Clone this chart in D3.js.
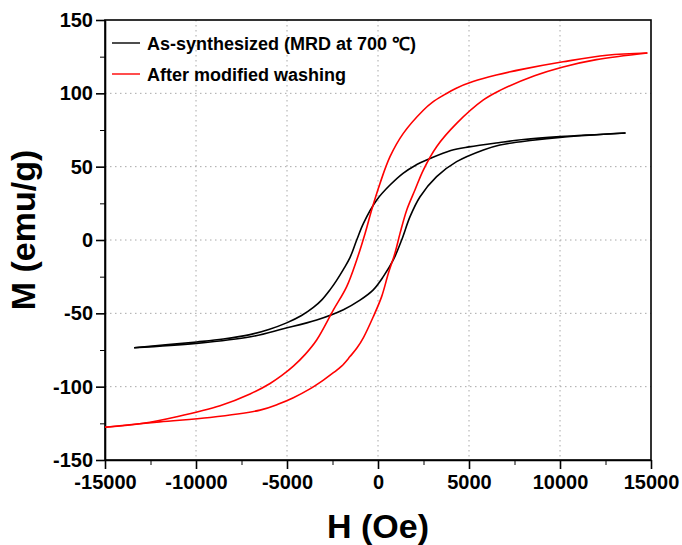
<!DOCTYPE html>
<html>
<head>
<meta charset="utf-8">
<script src="https://cdn.jsdelivr.net/npm/d3@7"></script>
<style>
  body { margin: 0; background: #fff; }
  svg { font-family: "Liberation Sans", Arial, sans-serif; font-weight: bold; }
</style>
</head>
<body>
<svg id="chart" width="682" height="545"></svg>
<script>
// black: as-synthesized, descending branch then ascending branch (H in Oe, M in emu/g)
var blackDownH = [13600, 10000, 8000, 6700, 5000, 4000, 2860, 2000, 1375, 660, -70, -800, -1170, -1540, -1900, -2300, -2640, -3100, -3550, -4200, -5020, -6000, -7030, -8500, -9960, -13400];
var blackDownM = [73, 70.5, 68.5, 66.5, 63.5, 61, 55.5, 50.5, 45.5, 37.5, 27.3, 11.4, 0, -12, -20, -28, -34, -41, -46, -51.5, -56.5, -61, -64.5, -67.5, -69.5, -73.5];
var blackUpH = [-13400, -10000, -7000, -5200, -3370, -1900, -990, -260, 290, 840, 1300, 1760, 2310, 3220, 4320, 5790, 6700, 8500, 10000, 13600];
var blackUpM = [-73.5, -70.5, -66, -60.5, -54.5, -47.5, -41, -34, -25, -13.6, 0, 15.9, 29.5, 43.2, 53.4, 61.4, 64.8, 68, 70, 73];

// red: after modified washing
var redDownH = [14800, 12570, 10170, 7970, 6500, 5220, 4300, 3570, 3000, 2490, 1390, 660, 110, -350, -710, -1170, -1720, -2450, -3370, -4000, -4650, -5300, -5930, -7030, -8680, -11060, -12900, -15000];
var redDownM = [127.5, 126, 121.5, 116.5, 112.5, 108, 103.5, 98.5, 94, 88.5, 72.7, 56.8, 38.6, 20.5, 4.5, -13.6, -31.8, -47.7, -68.2, -78, -86, -92.5, -97.8, -105, -113, -120.5, -125, -127.7];
var redUpH = [-15000, -12000, -9230, -6480, -5500, -4650, -3740, -3000, -2450, -2000, -1540, -1150, -800, -260, 200, 570, 930, 1210, 1580, 2030, 2490, 3220, 4320, 5790, 6700, 8600, 10170, 12000, 14800];
var redUpM = [-127.7, -124, -121, -116, -112, -107.5, -101.5, -95.5, -90.5, -86, -79.5, -73.5, -66.5, -52.3, -38.6, -22.7, -9.1, 4.5, 20.5, 34.1, 47.7, 63.6, 79.5, 95.5, 102, 112, 118, 123, 127.5];

var xTicks = [-15000, -10000, -5000, 0, 5000, 10000, 15000];
var yTicks = [-150, -100, -50, 0, 50, 100, 150];
var legendLabels = ["As-synthesized (MRD at 700 \u2103)", "After modified washing"];
var colors = ["#000000", "#ff0000"];

var margin = {top: 20, left: 105, right: 31, bottom: 85};
var width = 682 - margin.left - margin.right,
    height = 545 - margin.top - margin.bottom;

var svg = d3.select("#chart");
var g = svg.append("g").attr("transform", "translate(" + margin.left + "," + margin.top + ")");

var x = d3.scaleLinear().domain([-15000, 15000]).range([0, width]);
var y = d3.scaleLinear().domain([-150, 150]).range([height, 0]);

// dotted grid
g.append("g").selectAll("line").data(xTicks.slice(1, -1)).enter().append("line")
  .attr("x1", d => x(d)).attr("x2", d => x(d)).attr("y1", 0).attr("y2", height)
  .attr("stroke", "#a8a8a8").attr("stroke-dasharray", "1.5,3.5");
g.append("g").selectAll("line").data(yTicks.slice(1, -1)).enter().append("line")
  .attr("y1", d => y(d)).attr("y2", d => y(d)).attr("x1", 0).attr("x2", width)
  .attr("stroke", "#a8a8a8").attr("stroke-dasharray", "1.5,3.5");

// minor ticks
var xMinor = d3.range(-12500, 15000, 5000);
var yMinor = d3.range(-125, 150, 50);
g.append("g").attr("transform", "translate(0," + height + ")")
  .call(d3.axisBottom(x).tickValues(xMinor).tickSize(5).tickFormat(""))
  .call(a => a.select(".domain").remove());
g.append("g")
  .call(d3.axisLeft(y).tickValues(yMinor).tickSize(5).tickFormat(""))
  .call(a => a.select(".domain").remove());

// major axes
var xAxis = g.append("g").attr("transform", "translate(0," + height + ")")
  .call(d3.axisBottom(x).tickValues(xTicks).tickFormat(d => String(d)).tickSize(9).tickPadding(6).tickSizeOuter(0));
var yAxis = g.append("g")
  .call(d3.axisLeft(y).tickValues(yTicks).tickFormat(d => String(d)).tickSize(9).tickPadding(3).tickSizeOuter(0));
[xAxis, yAxis].forEach(function(a) {
  a.selectAll("line").attr("stroke-width", 1.6);
  a.select(".domain").attr("stroke-width", 1.6);
  a.selectAll("text").attr("font-size", 20).attr("font-weight", "bold").attr("font-family", "Liberation Sans, Arial, sans-serif").attr("fill", "#000");
});
g.selectAll(".tick line").attr("stroke", "#000");

// frame
g.append("rect").attr("width", width).attr("height", height)
  .attr("fill", "none").attr("stroke", "#000").attr("stroke-width", 1.6);

var line = d3.line().x(d => x(d[0])).y(d => y(d[1])).curve(d3.curveCatmullRom);
function pairs(h, m) { return h.map((v, i) => [v, m[i]]); }

var series = [
  {c: colors[0], pts: pairs(blackDownH, blackDownM)},
  {c: colors[0], pts: pairs(blackUpH, blackUpM)},
  {c: colors[1], pts: pairs(redDownH, redDownM)},
  {c: colors[1], pts: pairs(redUpH, redUpM)}
];
g.selectAll("path.curve").data(series).enter().append("path")
  .attr("class", "curve")
  .attr("d", d => line(d.pts))
  .attr("fill", "none").attr("stroke", d => d.c).attr("stroke-width", 1.6);

// legend
var leg = g.selectAll("g.leg").data(legendLabels).enter().append("g")
  .attr("class", "leg")
  .attr("transform", (d, i) => "translate(7," + (23 + i * 31) + ")");
leg.append("line").attr("x1", 0).attr("x2", 28).attr("stroke", (d, i) => colors[i]).attr("stroke-width", 1.4);
leg.append("text").attr("x", 35).attr("y", 7).attr("font-size", 18).text(d => d);

// axis titles
svg.append("text").attr("x", margin.left + width / 2).attr("y", 538)
  .attr("text-anchor", "middle").attr("font-size", 34).text("H (Oe)");
svg.append("text").attr("transform", "translate(35,230) rotate(-90)")
  .attr("text-anchor", "middle").attr("font-size", 34).text("M (emu/g)");
</script>
</body>
</html>
